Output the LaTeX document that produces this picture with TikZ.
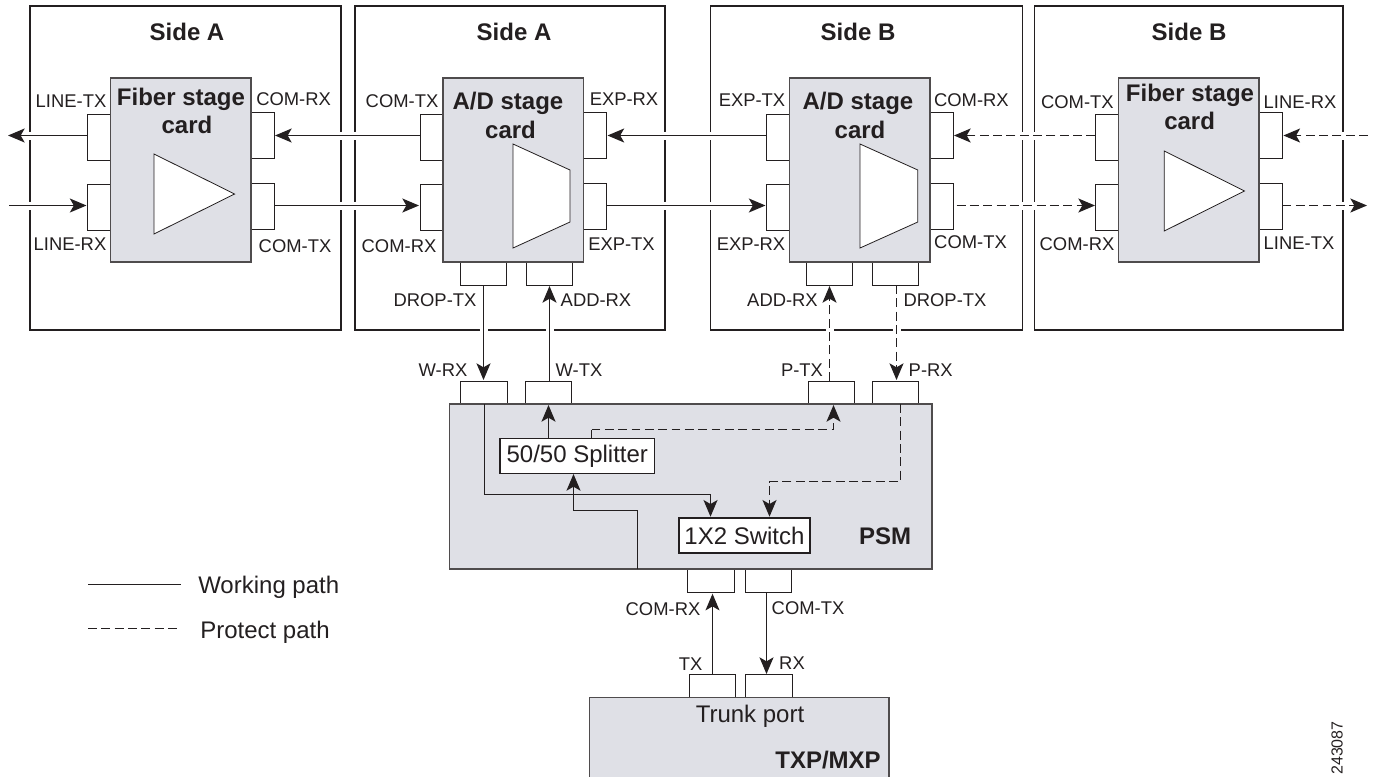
\documentclass[tikz,border=0pt]{standalone}
\usepackage{fontspec}
\setmainfont{Liberation Sans}
\usetikzlibrary{arrows.meta}
\definecolor{cardgray}{RGB}{223,224,230}
\definecolor{ink}{RGB}{35,31,32}
\tikzset{
  x=0.75pt,y=-0.75pt,
  panel/.style={draw=ink,line width=0.8pt,fill=white},
  card/.style={draw=ink!80,line width=0.8pt,fill=cardgray},
  port/.style={draw=ink,line width=0.7pt,fill=white},
  shapew/.style={draw=ink,line width=0.6pt,fill=white},
  wire/.style={draw=ink,line width=1.05pt},
  dwire/.style={draw=ink,line width=1.05pt,dash pattern=on 6.7pt off 3.3pt},
  halo/.style={draw=white,line width=2pt},
  tip/.style={-{Stealth[length=12.5pt,width=10.5pt,inset=3pt]}},
  lbl/.style={inner sep=0pt,font=\fontsize{13.8pt}{15pt}\selectfont,text=ink},
  hd/.style={inner sep=0pt,font=\fontsize{18pt}{20pt}\selectfont\bfseries,text=ink},
  boxlbl/.style={inner sep=0pt,font=\fontsize{18pt}{20pt}\selectfont,text=ink},
  leg/.style={inner sep=0pt,font=\fontsize{18pt}{20pt}\selectfont,text=ink,anchor=west},
  numlbl/.style={inner sep=0pt,font=\fontsize{12pt}{14pt}\selectfont,text=ink},
  whitebox/.style={draw=ink,line width=0.8pt,fill=white}
}
\newcommand{\boxat}[6][port]{\path[#1] (#3,#4) rectangle (#5,#6) node[pos=.5,inner sep=0pt] (#2) {};}
\begin{document}
\begin{tikzpicture}
\useasboundingbox (0,0) rectangle (1374,776);
% panels
\boxat[panel]{pa}{30}{6}{341}{330}
\boxat[panel]{pb}{355}{6}{665}{330}
\boxat[panel]{pc}{710.5}{6}{1022.5}{330}
\boxat[panel]{pd}{1034.7}{6}{1343}{330}
% gaps in the panel borders where wires cross
\foreach \px in {30,341,355,665,710.5,1022.5,1034.7,1343}{
  \draw[halo] (\px,131.5) -- (\px,139.5);
  \draw[halo] (\px,201.7) -- (\px,209.7);
}
\foreach \px in {483.5,549.5,829.5,896.5}{
  \draw[halo] (\px-4,330) -- (\px+4,330);
}
% ports of cards
\boxat{p1a}{87}{114}{110.5}{160}
\boxat{p1b}{87}{184}{110.5}{230}
\boxat{p1c}{251}{112.5}{274}{158.7}
\boxat{p1d}{251}{183}{274}{229}
\boxat{p2a}{420}{114}{443}{160}
\boxat{p2b}{420}{184}{443}{230}
\boxat{p2c}{583.6}{112.5}{606.5}{158.7}
\boxat{p2d}{583.6}{183}{606.5}{229}
\boxat{p2e}{460}{262}{506}{285}
\boxat{p2f}{526}{262}{572.6}{285}
\boxat{p3a}{766.4}{114}{789.5}{160}
\boxat{p3b}{766.4}{184}{789.5}{230}
\boxat{p3c}{930}{112.5}{953}{158.7}
\boxat{p3d}{930}{183}{953}{229}
\boxat{p3e}{806.6}{262}{852.5}{285}
\boxat{p3f}{872.6}{262}{918.4}{285}
\boxat{p4a}{1095.3}{114}{1118.4}{160}
\boxat{p4b}{1095.3}{184}{1118.4}{230}
\boxat{p4c}{1259}{112.5}{1282}{158.7}
\boxat{p4d}{1259}{183}{1282}{229}
% cards
\boxat[card]{c1}{110.5}{78}{251}{262}
\boxat[card]{c2}{443}{78}{583.6}{262}
\boxat[card]{c3}{789.5}{78}{930}{262}
\boxat[card]{c4}{1118.4}{78}{1259}{262}
% amplifier / mux glyphs
\path[shapew] (154,154) -- (234.6,194) -- (154,234) -- cycle;
\path[shapew] (513,144) -- (570,170) -- (570,222) -- (513,248) -- cycle;
\path[shapew] (860,144) -- (917.8,170) -- (917.8,222) -- (860,248) -- cycle;
\path[shapew] (1164.3,151) -- (1244.5,191) -- (1164.3,231) -- cycle;
% PSM ports
\boxat{wrx}{460.7}{381}{507}{404}
\boxat{wtx}{525.7}{381}{571.8}{404}
\boxat{ptx}{808}{381}{854.6}{404}
\boxat{prx}{872}{381}{918.2}{404}
\boxat{pcr}{687.7}{569}{734}{592.7}
\boxat{pct}{745}{569}{791.7}{592.7}
\boxat{ttx}{689}{674}{735}{697.3}
\boxat{trx}{745.7}{674}{792}{697.3}
% PSM and TXP
\boxat[card]{psm}{449.6}{404}{932}{569}
\path[card] (589.3,800) -- (589.3,697.3) -- (889,697.3) -- (889,800);
\boxat[whitebox]{split}{500}{438.7}{654.6}{473.3}
\boxat[whitebox]{sw}{679}{518}{810}{553}
% labels
\node[hd] (ha) at (187,32) {Side A};
\node[hd] (hb) at (514,32) {Side A};
\node[hd] (hc) at (858,32) {Side B};
\node[hd] (hd) at (1189,32) {Side B};
\node[hd] (f1a) at (181,99) {Fiber stage};
\node[hd] (f1b) at (187,125) {card};
\node[hd] (a1a) at (508,103) {A/D stage};
\node[hd] (a1b) at (510.5,130) {card};
\node[hd] (a2a) at (858,103) {A/D stage};
\node[hd] (a2b) at (860,130) {card};
\node[hd] (f2a) at (1190,95) {Fiber stage};
\node[hd] (f2b) at (1189.6,121) {card};
\node[lbl] (l1) at (71,101) {LINE-TX};
\node[lbl] (l2) at (293.6,99) {COM-RX};
\node[lbl] (l3) at (70,244) {LINE-RX};
\node[lbl] (l4) at (295,246) {COM-TX};
\node[lbl] (l5) at (402,101) {COM-TX};
\node[lbl] (l6) at (624,99) {EXP-RX};
\node[lbl] (l7) at (399,246) {COM-RX};
\node[lbl] (l8) at (621.5,244) {EXP-TX};
\node[lbl] (l9) at (435,300) {DROP-TX};
\node[lbl] (l10) at (596,300) {ADD-RX};
\node[lbl] (l11) at (752,100) {EXP-TX};
\node[lbl] (l12) at (971.4,100) {COM-RX};
\node[lbl] (l13) at (1077.4,102) {COM-TX};
\node[lbl] (l14) at (1300,102) {LINE-RX};
\node[lbl] (l15) at (751,244) {EXP-RX};
\node[lbl] (l16) at (970.5,242) {COM-TX};
\node[lbl] (l17) at (1077,244) {COM-RX};
\node[lbl] (l18) at (1299,243) {LINE-TX};
\node[lbl] (l19) at (782.5,300) {ADD-RX};
\node[lbl] (l20) at (945,300) {DROP-TX};
\node[lbl] (l21) at (443,369.7) {W-RX};
\node[lbl] (l22) at (579,370) {W-TX};
\node[lbl] (l23) at (802,370) {P-TX};
\node[lbl] (l24) at (930.7,370) {P-RX};
\node[lbl] (l25) at (663,609) {COM-RX};
\node[lbl] (l26) at (808,608) {COM-TX};
\node[lbl] (l27) at (690.7,664) {TX};
\node[lbl] (l28) at (792,663) {RX};
\node[boxlbl] (t1) at (split) {50/50 Splitter};
\node[boxlbl] (t2) at (sw) {1X2 Switch};
\node[hd] (t3) at (885,536.7) {PSM};
\node[boxlbl] (t4) at (750,716) {Trunk port};
\node[hd,anchor=east] (t5) at (881,760) {TXP/MXP};
\node[leg] (lg1) at (198,587) {Working path};
\node[leg] (lg2) at (200,632) {Protect path};
\node[numlbl,rotate=90] (num) at (1337,748) {243087};
% free ends
\coordinate (e1) at (8,135.5);
\coordinate (e2) at (9,205.5);
\coordinate (e3) at (1368,135.5);
\coordinate (e4) at (1367,205.5);
\coordinate (lw1) at (88,584.5);\coordinate (lw2) at (181,584.5);
\coordinate (ld1) at (88,628.5);\coordinate (ld2) at (177,628.5);
% horizontal wires
\draw[wire,tip] (87,135.5) -- (e1);
\draw[wire,tip] (e2) -- (86.5,205.5);
\draw[wire,tip] (420,135.5) -- (275,135.5);
\draw[wire,tip] (274,205.5) -- (419,205.5);
\draw[wire,tip] (766.4,135.5) -- (607.5,135.5);
\draw[wire,tip] (606.5,205.5) -- (765.5,205.5);
\draw[dwire,tip] (1095.3,135.5) -- (954,135.5);
\draw[dwire,tip] (956.6,205.5) -- (1095,205.5);
\draw[dwire,tip] (e3) -- (1283.4,135.5);
\draw[dwire,tip] (1282.5,205.5) -- (e4);
% vertical
\draw[wire,tip] (483.5,285) -- (483.5,380);
\draw[wire,tip] (549.5,381) -- (549.5,286);
\draw[dwire,tip] (829.5,381) -- (829.5,286);
\draw[dwire,tip] (896.5,285) -- (896.5,380);
\draw[wire,tip] (712.5,674) -- (712.5,593.7);
\draw[wire,tip] (766.5,592.7) -- (766.5,674);
% PSM internal
\draw[wire,tip] (484.5,404) -- (484.5,494.5) -- (710.5,494.5) -- (710.5,516.7);
\draw[wire,tip] (548.5,438.7) -- (548.5,405);
\draw[wire] (591.5,438.7) -- (591.5,429.5);
\draw[dwire,tip] (591.5,429.5) -- (833.5,429.5) -- (833.5,405);
\draw[dwire,tip] (900.5,404) -- (900.5,481.5) -- (769.5,481.5) -- (769.5,516.7);
\draw[wire,tip] (637.5,569) -- (637.5,510.5) -- (573.5,510.5) -- (573.5,474);
% legend
\draw[wire] (lw1) -- (lw2);
\draw[dwire] (ld1) -- (ld2);
\end{tikzpicture}
\end{document}
